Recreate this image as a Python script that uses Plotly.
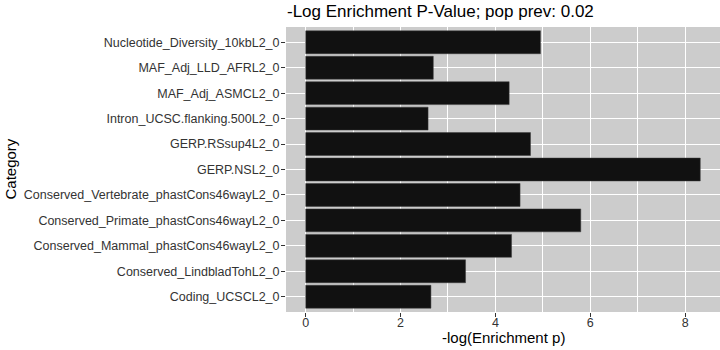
import plotly.graph_objects as go

categories = [
    "Coding_UCSCL2_0",
    "Conserved_LindbladTohL2_0",
    "Conserved_Mammal_phastCons46wayL2_0",
    "Conserved_Primate_phastCons46wayL2_0",
    "Conserved_Vertebrate_phastCons46wayL2_0",
    "GERP.NSL2_0",
    "GERP.RSsup4L2_0",
    "Intron_UCSC.flanking.500L2_0",
    "MAF_Adj_ASMCL2_0",
    "MAF_Adj_LLD_AFRL2_0",
    "Nucleotide_Diversity_10kbL2_0",
]
values = [2.64, 3.37, 4.34, 5.80, 4.52, 8.32, 4.74, 2.58, 4.29, 2.69, 4.95]
x_ticks = [0, 2, 4, 6, 8]

title_text = "-Log Enrichment P-Value; pop prev: 0.02"
x_title = "-log(Enrichment p)"
y_title = "Category"

FONT = "Liberation Sans, Arial, Helvetica, sans-serif"
W, H = 720, 350
L, R, T, B = 286, 0, 27, 38

fig = go.Figure(
    go.Bar(
        x=values,
        y=categories,
        orientation="h",
        width=0.9,
        marker=dict(color="#111111", line=dict(color="#3a3a3a", width=0.5)),
        hoverinfo="x+y",
    )
)

xmax = max(values)
pad = 0.05 * xmax
fig.update_layout(
    width=W,
    height=H,
    margin=dict(l=L, r=R, t=T, b=B, autoexpand=False),
    paper_bgcolor="white",
    plot_bgcolor="#CCCCCC",
    font=dict(family=FONT, color="black"),
    showlegend=False,
    bargap=0.1,
    title=dict(
        text=title_text,
        x=287 / W,
        xref="container",
        xanchor="left",
        y=1 - 11 / H,
        yref="container",
        yanchor="middle",
        font=dict(size=17, family=FONT, color="black"),
    ),
    xaxis=dict(
        range=[-pad, xmax + pad],
        tickvals=x_ticks,
        ticktext=[str(v) for v in x_ticks],
        ticks="outside",
        ticklen=4,
        tickwidth=1,
        tickcolor="#333333",
        tickfont=dict(size=12.5, color="#333333", family=FONT),
        ticklabelstandoff=-5,
        showgrid=True,
        gridcolor="white",
        gridwidth=1.4,
        minor=dict(dtick=1, tick0=0, showgrid=True, gridcolor="white", gridwidth=0.8),
        zeroline=False,
        showline=False,
        automargin=False,
        fixedrange=True,
    ),
    yaxis=dict(
        categoryorder="array",
        categoryarray=categories,
        range=[-0.6, len(categories) - 0.4],
        ticks="outside",
        ticklen=4,
        tickwidth=1,
        tickcolor="#333333",
        tickfont=dict(size=12.5, color="#333333", family=FONT),
        ticklabelstandoff=-1,
        showgrid=True,
        gridcolor="white",
        gridwidth=1.4,
        zeroline=False,
        showline=False,
        automargin=False,
        fixedrange=True,
    ),
    annotations=[
        dict(
            text=x_title, xref="paper", yref="paper",
            x=0.5, y=-(337 - (H - B)) / (H - T - B),
            xanchor="center", yanchor="middle", showarrow=False,
            font=dict(size=15, family=FONT, color="black"),
        ),
        dict(
            text=y_title, xref="paper", yref="paper",
            x=-(L - 10) / (W - L - R), y=0.5,
            xanchor="center", yanchor="middle", textangle=-90, showarrow=False,
            font=dict(size=15, family=FONT, color="black"),
        ),
    ],
)

fig.write_html(
    "out.html",
    config={"displayModeBar": False},
    post_script="document.body.style.margin='0';",
)
